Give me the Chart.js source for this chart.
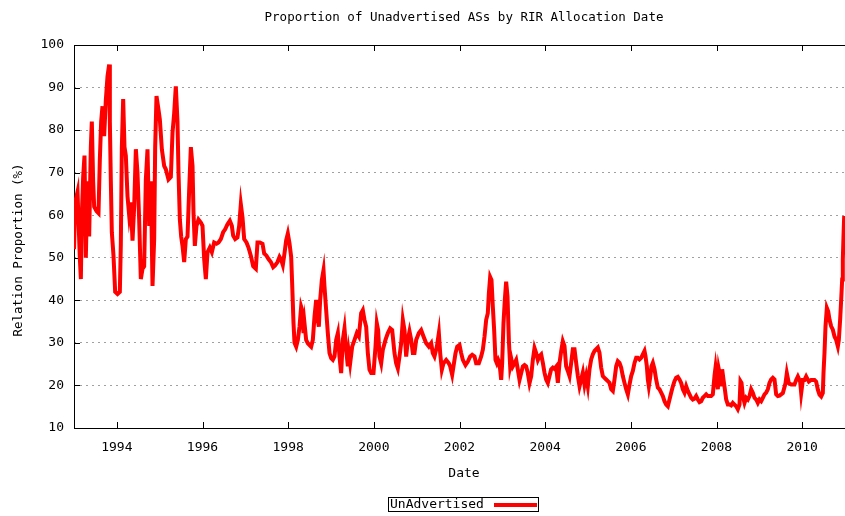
<!DOCTYPE html>
<html><head><meta charset="utf-8">
<script src="https://cdn.jsdelivr.net/npm/chart.js@4/dist/chart.umd.min.js"></script>
<style>html,body{margin:0;padding:0;background:#fff;overflow:hidden}#wrap{width:845px;height:516px;position:relative}</style>
</head><body><div id="wrap"><canvas id="c" width="845" height="516"></canvas></div>
<script>
const chartTitle = 'Proportion of Unadvertised ASs by RIR Allocation Date';
const xTitle = 'Date';
const yTitle = 'Relation Proportion (%)';
const seriesName = 'UnAdvertised';
const yearTicks = [1994, 1996, 1998, 2000, 2002, 2004, 2006, 2008, 2010];
const valueTicks = [10, 20, 30, 40, 50, 60, 70, 80, 90, 100];

const years = [
1993.000,1993.027,1993.082,1993.136,1993.160,1993.183,1993.214,1993.245,1993.276,1993.315,
1993.354,1993.393,1993.416,1993.447,1993.471,1993.525,1993.572,1993.603,1993.634,1993.665,
1993.704,1993.743,1993.782,1993.821,1993.837,1993.860,1993.883,1993.922,1993.961,1994.016,
1994.070,1994.093,1994.117,1994.148,1994.179,1994.210,1994.249,1994.288,1994.327,1994.366,
1994.405,1994.444,1994.482,1994.521,1994.560,1994.599,1994.638,1994.677,1994.716,1994.755,
1994.794,1994.833,1994.872,1994.895,1994.926,1994.973,1995.004,1995.051,1995.105,1995.144,
1995.206,1995.261,1995.300,1995.339,1995.377,1995.416,1995.440,1995.471,1995.502,1995.533,
1995.572,1995.611,1995.650,1995.689,1995.728,1995.767,1995.790,1995.821,1995.860,1995.907,
1995.961,1996.000,1996.039,1996.078,1996.117,1996.171,1996.218,1996.272,1996.327,1996.374,
1996.428,1996.482,1996.529,1996.584,1996.638,1996.685,1996.716,1996.763,1996.817,1996.856,
1996.895,1996.934,1996.973,1997.027,1997.074,1997.128,1997.183,1997.245,1997.284,1997.339,
1997.401,1997.440,1997.494,1997.541,1997.595,1997.650,1997.696,1997.751,
1997.798,1997.837,1997.875,1997.914,1997.953,1997.992,1998.031,1998.070,1998.093,1998.125,
1998.148,1998.187,1998.226,1998.265,1998.303,1998.327,1998.358,1998.381,1998.420,1998.459,
1998.498,1998.537,1998.576,1998.615,1998.654,1998.693,1998.716,1998.747,1998.786,1998.825,
1998.848,1998.887,1998.926,1998.965,1999.004,1999.043,1999.082,1999.121,1999.160,1999.198,
1999.237,1999.276,1999.315,1999.354,1999.393,1999.416,1999.447,1999.494,1999.549,1999.603,
1999.650,1999.704,1999.743,1999.782,1999.821,1999.860,1999.899,1999.938,1999.992,2000.039,
2000.070,2000.101,2000.132,2000.171,2000.210,2000.272,2000.327,2000.381,2000.428,2000.482,
2000.521,2000.560,2000.599,2000.638,2000.677,2000.716,2000.755,2000.794,2000.833,2000.872,
2000.911,2000.949,2000.988,2001.051,2001.105,2001.160,2001.222,2001.284,2001.339,2001.377,
2001.416,2001.471,2001.518,2001.549,2001.588,2001.626,2001.689,2001.751,2001.782,2001.829,
2001.860,2001.907,2001.946,2002.000,2002.039,2002.078,2002.140,2002.195,2002.249,2002.296,
2002.350,2002.389,2002.451,2002.506,2002.545,2002.584,2002.623,2002.661,2002.685,2002.716,
2002.747,2002.778,2002.809,2002.840,2002.872,2002.903,2002.934,2002.973,2002.996,2003.027,
2003.058,2003.089,2003.121,2003.152,2003.183,2003.214,2003.245,2003.284,2003.323,2003.362,
2003.401,2003.440,2003.479,2003.518,2003.556,2003.595,2003.634,2003.673,2003.712,2003.751,
2003.790,2003.829,
2003.868,2003.907,2003.946,2003.984,2004.023,2004.062,2004.101,2004.140,2004.179,2004.218,
2004.257,2004.296,2004.335,2004.374,2004.412,2004.451,2004.490,2004.529,2004.568,2004.607,
2004.646,2004.685,2004.724,2004.763,2004.802,2004.840,2004.879,2004.918,2004.957,2004.996,
2005.035,2005.074,2005.113,2005.152,2005.191,2005.230,2005.268,2005.307,2005.346,2005.385,
2005.424,2005.463,2005.502,2005.541,2005.580,2005.619,2005.658,2005.696,2005.735,2005.774,
2005.813,2005.852,2005.891,2005.930,2005.969,2006.008,2006.047,2006.086,2006.125,2006.163,
2006.202,2006.241,2006.280,2006.319,2006.342,2006.374,2006.397,2006.420,2006.451,2006.482,
2006.514,2006.553,2006.591,2006.630,2006.669,2006.708,2006.747,2006.786,2006.825,2006.864,
2006.903,2006.942,2006.981,2007.019,2007.058,2007.097,2007.136,2007.175,2007.214,2007.253,
2007.292,2007.331,2007.370,2007.409,2007.447,2007.486,2007.525,2007.564,2007.603,2007.642,
2007.681,2007.720,2007.759,2007.798,2007.837,2007.875,2007.914,2007.953,2007.977,2008.008,
2008.031,2008.054,2008.086,2008.109,2008.132,2008.163,2008.195,2008.226,2008.265,2008.304,
2008.342,2008.381,2008.420,2008.459,2008.498,2008.537,2008.560,2008.584,2008.615,2008.654,
2008.693,2008.732,2008.770,2008.809,2008.848,2008.887,2008.926,2008.965,2009.004,2009.043,
2009.082,2009.121,2009.160,2009.198,2009.237,2009.276,2009.315,2009.354,2009.393,2009.432,
2009.471,
2009.549,2009.611,2009.642,2009.689,2009.743,2009.821,2009.860,2009.899,2009.953,2009.977,
2010.016,2010.054,2010.093,2010.156,2010.210,2010.288,2010.327,2010.366,2010.405,2010.444,
2010.482,2010.498,2010.521,2010.545,2010.576,2010.607,2010.638,2010.677,2010.716,2010.755,
2010.794,2010.833,2010.856,2010.887,2010.911,2010.934,2010.949,2010.965,2010.981
];

const proportion = [
52,63,65.5,50,45,60,69,74,50,68,
55,76,82,68,62,61,60.5,73,82,85.6,
78.6,87,92.6,95.4,82,68,56,50.5,42,41.5,
42,53,76,87.3,76,74,64.5,60,63,54,
62,75.5,70,59,45,47.4,48,68.4,75.5,57.5,
68,43.4,54.4,76,88,84.8,82.5,75.5,71.6,70.8,
68.4,69,79.4,84,90.3,82,70,59,55,52.8,
49,54.4,55,66,76,71.6,60.6,52.8,57.5,59,
58.3,57.5,49.7,45,51.3,52.4,51.3,53.6,53.3,53.6,
54.4,56,56.7,57.9,58.7,57.5,55.2,54.4,54.8,57.5,
62.6,59.5,54.4,53.6,52.4,50.5,48,47.4,53.6,53.6,
53.3,51,50.5,49.7,49,47.8,48.2,49,
50.2,49.5,48.3,51,54.1,55.7,53.4,50.2,44,34.6,
30,29.1,30.7,33.8,38.5,37.7,32.3,34.6,30.7,29.9,
29.5,29.1,30.7,36.2,40.1,35.4,33.8,40.1,44.8,47.1,
43.2,37.7,32.3,27.6,26.4,26,26.8,30.7,32.3,26.8,
22.9,30.7,33.4,28.4,24.5,27.6,25.2,29.1,30.7,32.3,
31.5,37,37.7,35.4,33.8,27.6,23.7,22.9,22.9,29.1,
34.6,33,26.8,25.2,28.4,30.7,32.3,33.4,33,27.6,
25.2,24,26.8,29.9,35.4,33,26.8,30.7,32.7,30.7,
27.6,27.6,30.7,32.3,33,31.5,29.9,29.1,29.9,27.6,
26.8,29.1,32.3,27.6,23.7,25.2,26,25.2,24.5,22.5,
24.5,27.6,29.1,29.5,27.6,26,24.8,25.6,26.8,27.2,
26.8,25.2,25.2,26.8,28.4,31.5,35.4,37,41.6,45.5,
44.8,38.5,33,26,25.2,26,25.2,21.3,25.2,34.6,
40.1,44.4,40.9,30.7,24.5,26,24.5,25.2,26,23.7,
21.3,22.9,24.5,24.8,24.5,22.9,20.5,22.1,26,28.8,
27.6,26,
26.9,27.3,25.3,23,21.4,20.6,22.2,23.8,24.2,23.9,
24.4,20.6,25.3,28.1,30.4,29.3,24.5,23.4,22.2,25.3,
28.5,28.5,25.3,22.2,19.8,21.4,23,20.2,22.2,19.8,
23.8,26.1,27.3,28.1,28.5,28.9,27.7,24.2,22.2,21.8,
21.4,21,20.6,19.1,18.7,21.4,24.5,25.7,25.3,24.2,
22.2,20.6,19.1,17.9,20.2,22.2,23.4,25.3,26.5,26.5,
26.1,26.5,27.3,28.1,26.9,24.5,21.4,19.8,21.8,24.5,
25.3,23.8,21.4,19.5,19.1,18.3,17.5,16.3,15.5,15.1,
16.7,18.3,19.8,21,21.8,22,21.4,20.6,19.1,18.3,
19.8,18.7,17.9,17.1,16.7,16.9,17.5,16.7,16.1,16.3,
17.1,17.5,17.9,17.5,17.5,17.5,17.9,22.2,24.2,21.4,
19.1,23.8,22.2,19.8,23.8,21.4,19.1,16.7,15.5,15.5,
15.3,15.9,15.5,15.1,14.4,15.5,21,20.6,17.5,15.9,
17.1,16.7,17.5,19.1,18.3,17.1,16.7,15.9,16.7,16.3,
17.1,17.9,18.3,19.1,20.6,21.4,21.8,21.4,17.9,17.5,
17.6,
18.2,20.5,22.9,20.5,20.2,20.2,21.3,22.1,20.9,18.2,
21.3,21.3,22.1,20.9,21.3,21.3,20.9,19,17.8,17.4,
18.2,22.9,27.6,33.9,38.2,37.4,35.5,33.9,33.1,31.5,
30.7,29.2,30.7,35.5,40.2,44.9,49.6,55.1,59.8
];

const FONT = '"DejaVu Sans Mono", "Liberation Mono", monospace';

const decor = {
  id: 'decor',
  beforeDatasetsDraw(chart) {
    const ctx = chart.ctx, a = chart.chartArea;
    const xs = chart.scales.x, ys = chart.scales.y;
    ctx.save();
    ctx.strokeStyle = '#000';
    ctx.lineWidth = 1;
    ctx.beginPath();
    ctx.moveTo(a.left + 0.5, a.top + 0.5);
    ctx.lineTo(a.left + 0.5, a.bottom + 0.5);
    ctx.lineTo(a.right + 1, a.bottom + 0.5);
    ctx.moveTo(a.left + 0.5, a.top + 0.5);
    ctx.lineTo(a.right + 1, a.top + 0.5);
    yearTicks.forEach(v => {
      const px = Math.round(xs.getPixelForValue(v)) + 0.5;
      ctx.moveTo(px, a.bottom); ctx.lineTo(px, a.bottom - 6);
      ctx.moveTo(px, a.top); ctx.lineTo(px, a.top + 6);
    });
    valueTicks.forEach(v => {
      const py = Math.round(ys.getPixelForValue(v)) + 0.5;
      ctx.moveTo(a.left, py); ctx.lineTo(a.left + 6, py);
    });
    ctx.stroke();
    ctx.restore();
  },
  afterDraw(chart) {
    const ctx = chart.ctx, a = chart.chartArea;
    ctx.save();
    ctx.fillStyle = '#000';
    ctx.textBaseline = 'middle';
    ctx.textAlign = 'center';
    ctx.font = '12.5px ' + FONT;
    ctx.fillText(chartTitle, 464, 18);
    ctx.font = '13px ' + FONT;
    ctx.fillText(xTitle, 464, 474);
    ctx.save();
    ctx.translate(19, 250);
    ctx.rotate(-Math.PI / 2);
    ctx.font = '12.5px ' + FONT;
    ctx.fillText(yTitle, 0, 0);
    ctx.restore();
    // legend
    ctx.strokeStyle = '#000';
    ctx.lineWidth = 1;
    ctx.strokeRect(388.5, 497.5, 150, 14);
    ctx.textAlign = 'left';
    ctx.font = '13px ' + FONT;
    ctx.fillText(seriesName, 390, 505);
    ctx.strokeStyle = '#ff0000';
    ctx.lineWidth = 4;
    ctx.beginPath();
    ctx.moveTo(494, 505);
    ctx.lineTo(537, 505);
    ctx.stroke();
    ctx.restore();
  }
};

new Chart(document.getElementById('c'), {
  type: 'line',
  data: {
    labels: years,
    datasets: [{
      label: seriesName,
      data: years.map((y, i) => ({x: y, y: proportion[i]})),
      borderColor: '#ff0000',
      backgroundColor: '#ff0000',
      borderWidth: 4,
      pointRadius: 0,
      tension: 0,
      borderJoinStyle: 'miter',
      fill: false
    }]
  },
  options: {
    responsive: false,
    animation: false,
    devicePixelRatio: 1,
    layout: {padding: {top: 45, right: 0, left: 0, bottom: 0}},
    plugins: {legend: {display: false}, title: {display: false}, tooltip: {enabled: false}},
    scales: {
      x: {
        type: 'linear', min: 1993, max: 2011,
        afterBuildTicks: s => { s.ticks = yearTicks.map(v => ({value: v})); },
        afterFit: s => { s.height = 88; },
        grid: {display: false, drawTicks: false},
        border: {display: false},
        ticks: {color: '#000', font: {family: FONT, size: 13}, padding: 12, maxRotation: 0, autoSkip: false,
          callback: v => String(v)}
      },
      y: {
        type: 'linear', min: 10, max: 100,
        afterBuildTicks: s => { s.ticks = valueTicks.map(v => ({value: v})); },
        afterFit: s => { s.width = 74; },
        grid: {
          drawTicks: false,
          lineWidth: 1,
          color: c => (c.tick && (c.tick.value === 10 || c.tick.value === 100)) ? 'rgba(0,0,0,0)' : '#a0a0a0'
        },
        border: {display: false, dash: [2, 4]},
        ticks: {color: '#000', font: {family: FONT, size: 13}, padding: 10, callback: v => String(v)}
      }
    }
  },
  plugins: [decor]
});
</script>
</body></html>
